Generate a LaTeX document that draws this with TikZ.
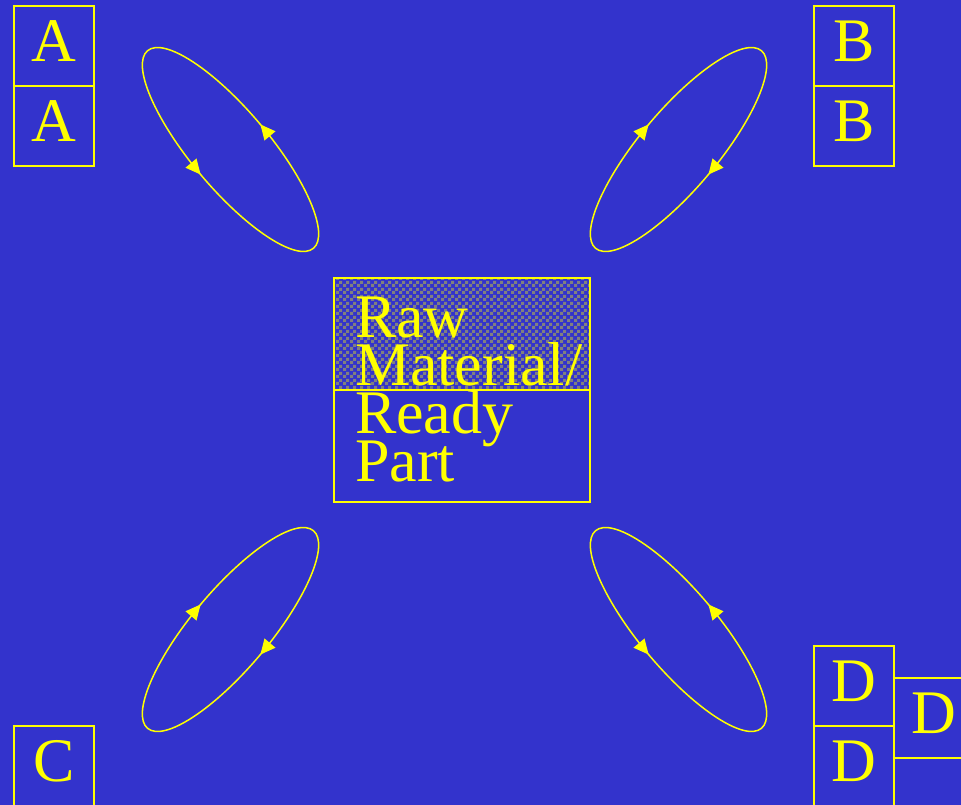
\documentclass[tikz,border=0pt]{standalone}
\usepackage{fontspec}
\setmainfont{Liberation Serif}
\usetikzlibrary{positioning, arrows.meta, patterns, decorations.markings}
\definecolor{bgblue}{RGB}{51,51,204}
\definecolor{ink}{RGB}{255,255,0}
\definecolor{checkgray}{RGB}{128,128,128}
\pgfdeclarepatternformonly{rawcheck}{\pgfpointorigin}{\pgfqpoint{7pt}{7pt}}{\pgfqpoint{7pt}{7pt}}{%
  \pgfpathrectangle{\pgfpointorigin}{\pgfqpoint{3.5pt}{3.5pt}}%
  \pgfpathrectangle{\pgfqpoint{3.5pt}{3.5pt}}{\pgfqpoint{3.5pt}{3.5pt}}%
  \pgfusepath{fill}}
\newcommand{\bigfont}{\fontsize{62}{48}\selectfont}
\newcommand{\tightlines}{\lineskiplimit=-100pt\relax\hyphenpenalty=10000\relax\hfuzz=100pt\relax}

\begin{document}
\begin{tikzpicture}[
  x=1pt, y=-1pt,
  >={Triangle[length=15pt, width=14pt]},
  every node/.style={font=\bigfont, text=ink},
  letter/.style={
    draw=ink, line width=1.6pt, minimum size=80pt,
    inner sep=0pt, outer sep=0pt, text height=41pt, text depth=10pt
  },
  store/.style={
    draw=ink, line width=1.6pt, minimum width=256pt, minimum height=224pt,
    inner xsep=21pt, inner ysep=0pt, text width=214pt, align=left,
    execute at begin node=\tightlines,
    path picture={
      \fill[pattern=rawcheck, pattern color=checkgray]
        (path picture bounding box.north west) rectangle (path picture bounding box.east);
      \draw[ink, line width=1.6pt]
        (path picture bounding box.west) -- (path picture bounding box.east);
    }
  },
  loopfwd/.style={
    draw=ink, line width=1.5pt, postaction={decorate},
    decoration={markings,
      mark=at position 0.25 with {\arrow{>}},
      mark=at position 0.75 with {\arrow{>}}}
  },
  looprev/.style={
    draw=ink, line width=1.5pt, postaction={decorate},
    decoration={markings,
      mark=at position 0.25 with {\arrowreversed{>}},
      mark=at position 0.75 with {\arrowreversed{>}}}
  }
]
\useasboundingbox (0,0) rectangle (961,805);
\fill[bgblue] (0,0) rectangle (961,805);

% Corner stacks
\node[letter] (atop) at (54,46) {A};
\node[letter, below=0pt of atop] (abot) {A};
\node[letter] (btop) at (854,46) {B};
\node[letter, below=0pt of btop] (bbot) {B};
\node[letter] (cbox) at (54,766) {C};
\node[letter] (dtop) at (854,686) {D};
\node[letter, below=0pt of dtop] (dbot) {D};
\node[letter] (dside) at (934,718) {D};

% Centre store, upper half patterned
\node[store] (mat) at (462,390) {Raw\\Material/\\Ready\\Part};

% Loops between the corners and the store
\coordinate (tlloop) at (230.5,149.5);
\coordinate (trloop) at (678.5,149.5);
\coordinate (blloop) at (230.5,629.5);
\coordinate (brloop) at (678.5,629.5);
\draw[loopfwd, rotate around={-50:(tlloop)}] (tlloop) ellipse [x radius=129pt, y radius=39pt];
\draw[looprev, rotate around={50:(trloop)}] (trloop) ellipse [x radius=129pt, y radius=39pt];
\draw[looprev, rotate around={50:(blloop)}] (blloop) ellipse [x radius=129pt, y radius=39pt];
\draw[loopfwd, rotate around={-50:(brloop)}] (brloop) ellipse [x radius=129pt, y radius=39pt];
\end{tikzpicture}
\end{document}
